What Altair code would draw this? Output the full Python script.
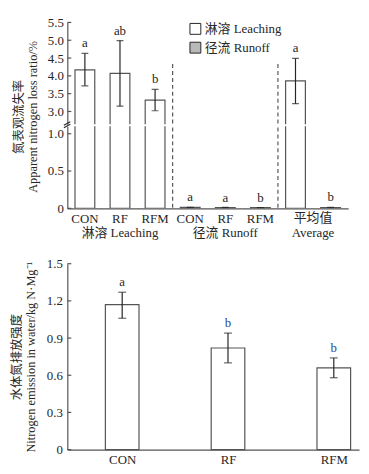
import altair as alt
import pandas as pd

FONT = "Liberation Serif, Noto Sans CJK SC"
INK = "#262626"
EDGE = "#555555"

# ---------------- top chart data (apparent nitrogen loss ratio, %) ----------------
slots = ["L-CON", "L-RF", "L-RFM", "R-CON", "R-RF", "R-RFM", "A-L", "A-R"]
slot_type = ["淋溶 Leaching"] * 3 + ["径流 Runoff"] * 3 + ["淋溶 Leaching", "径流 Runoff"]
slot_mean = [4.17, 4.07, 3.32, 0.012, 0.010, 0.009, 3.86, 0.011]
slot_lo = [3.72, 3.15, 3.02, 0.009, 0.008, 0.007, 3.22, 0.008]
slot_hi = [4.63, 4.99, 3.62, 0.015, 0.012, 0.011, 4.49, 0.014]
slot_sig = ["a", "ab", "b", "a", "a", "b", "a", "b"]

label_slots = ["L-CON", "L-RF", "L-RFM", "R-CON", "R-RF", "R-RFM"]
label_text = ["CON", "RF", "RFM", "CON", "RF", "RFM"]
group_slots = ["L-RF", "R-RF"]
group_text = ["淋溶 Leaching", "径流 Runoff"]
avg_slot = ["A-L"]
avg_line1 = ["平均值"]
avg_line2 = ["Average"]

sep_slots = ["R-CON", "A-L"]
sep_top = [4.33, 4.33]

upper_ticks = [3.0, 3.5, 4.0, 4.5, 5.0, 5.5]
lower_ticks = [0.0, 0.5, 1.0]
upper_domain = [2.64, 5.5]
lower_domain = [0.0, 1.1]

legend_types = ["淋溶 Leaching", "径流 Runoff"]
legend_fills = ["white", "#b9b9b9"]

# ---------------- bottom chart data (N emission intensity) ----------------
treats = ["CON", "RF", "RFM"]
emis_mean = [1.17, 0.82, 0.66]
emis_lo = [1.06, 0.70, 0.58]
emis_hi = [1.27, 0.94, 0.74]
emis_sig = ["a", "b", "b"]
emis_ticks = [0.0, 0.3, 0.6, 0.9, 1.2, 1.5]

top = pd.DataFrame({"slot": slots, "type": slot_type, "mean": slot_mean,
                    "lo": slot_lo, "hi": slot_hi, "sig": slot_sig})
seps = pd.DataFrame({"slot": sep_slots, "top": sep_top})
labs = pd.DataFrame({"slot": label_slots, "text": label_text})
groups = pd.DataFrame({"slot": group_slots, "text": group_text})
avg = pd.DataFrame({"slot": avg_slot, "l1": avg_line1, "l2": avg_line2})
bottom = pd.DataFrame({"treat": treats, "mean": emis_mean, "lo": emis_lo,
                       "hi": emis_hi, "sig": emis_sig})

W = 284
BAND = W / len(slots)
H_UP = 103
H_LO = 83

LABEL_EXPR = "datum.value == 0 ? '0' : format(datum.value, '.1f')"


def panel(domain, ticks, height, lower):
    xscale = alt.Scale(domain=slots, paddingInner=0, paddingOuter=0)
    if lower:
        xaxis = alt.Axis(labels=False, ticks=False, domain=True, domainColor=EDGE,
                         domainWidth=1.2, title=None, grid=False)
    else:
        xaxis = None
    yscale = alt.Scale(domain=domain, zero=False, nice=False)
    if lower:
        yaxis = alt.Axis(values=ticks, ticks=False, domainColor=EDGE, domainWidth=1.2,
                         labelExpr=LABEL_EXPR, grid=False, labelPadding=4,
                         title=["氮表观流失率", "Apparent nitrogen loss ratio/%"],
                         titleY=-10, titlePadding=8, titleLineHeight=14)
    else:
        yaxis = alt.Axis(values=ticks, ticks=False, domainColor=EDGE, domainWidth=1.2,
                         labelExpr=LABEL_EXPR, grid=False, labelPadding=4, title=None)

    def X(field="slot:N", **kw):
        return alt.X(field, scale=xscale, axis=xaxis, **kw)

    def Y(field):
        return alt.Y(field, scale=yscale, axis=yaxis)

    base = alt.Chart(top)
    fill_legend = None
    if not lower:
        fill_legend = alt.Legend(title=None, orient="none", legendX=123, legendY=0,
                                 symbolType="square", symbolSize=121,
                                 symbolStrokeColor=INK, symbolStrokeWidth=1,
                                 labelFont=FONT, labelFontSize=13, labelColor=INK,
                                 rowPadding=4, labelOffset=3, padding=0)
    bars = base.mark_bar(width=20, stroke=EDGE, strokeWidth=1.2, clip=True).encode(
        x=X(), y=Y("mean:Q"), y2=alt.datum(0),
        fill=alt.Fill("type:N", scale=alt.Scale(domain=legend_types, range=legend_fills),
                      legend=fill_legend))
    err = base.mark_rule(color=INK, strokeWidth=1.2, clip=True).encode(
        x=X(), y=Y("lo:Q"), y2="hi:Q")
    cap_lo = base.mark_tick(size=7, thickness=1.2, color=INK, clip=True).encode(x=X(), y=Y("lo:Q"))
    cap_hi = base.mark_tick(size=7, thickness=1.2, color=INK, clip=True).encode(x=X(), y=Y("hi:Q"))
    letters = base.mark_text(baseline="bottom", dy=-3, font=FONT, fontSize=13,
                             color=INK, clip=True).encode(x=X(), y=Y("hi:Q"), text="sig:N")
    sep = alt.Chart(seps).mark_rule(strokeDash=[4, 3], color=EDGE, strokeWidth=1.2,
                                    clip=True).encode(
        x=X(bandPosition=0), y=Y("top:Q"), y2=alt.datum(0))
    tk = alt.Chart(pd.DataFrame({"t": ticks})).mark_rule(color=EDGE, strokeWidth=1.2).encode(
        x=alt.value(0), x2=alt.value(4), y=Y("t:Q"))
    layers = [bars, err, cap_lo, cap_hi, letters, sep, tk]
    if lower:
        l1 = alt.Chart(labs).mark_text(font=FONT, fontSize=13, color=INK, baseline="middle").encode(
            x=X(), y=alt.value(height + 11), text="text:N")
        l2 = alt.Chart(groups).mark_text(font=FONT, fontSize=13, color=INK, baseline="middle").encode(
            x=X(), y=alt.value(height + 25), text="text:N")
        a1 = alt.Chart(avg).mark_text(font=FONT, fontSize=13, color=INK, baseline="middle",
                                      xOffset=BAND / 2).encode(
            x=X(), y=alt.value(height + 10), text="l1:N")
        a2 = alt.Chart(avg).mark_text(font=FONT, fontSize=13, color=INK, baseline="middle",
                                      xOffset=BAND / 2).encode(
            x=X(), y=alt.value(height + 25), text="l2:N")
        brk_data = alt.Chart(pd.DataFrame({"k": [0]}))
        brk1 = brk_data.mark_rule(color=INK, strokeWidth=1.1).encode(
            x=alt.value(-3.5), x2=alt.value(3), y=alt.value(1.5), y2=alt.value(-2))
        brk2 = brk_data.mark_rule(color=INK, strokeWidth=1.1).encode(
            x=alt.value(-3.5), x2=alt.value(3), y=alt.value(-1), y2=alt.value(-4.5))
        layers += [l1, l2, a1, a2, brk1, brk2]
    return alt.layer(*layers).properties(width=W, height=height)


upper = panel(upper_domain, upper_ticks, H_UP, False)
lower = panel(lower_domain, lower_ticks, H_LO, True)

top_chart = alt.vconcat(upper, lower, spacing=2, bounds="flush").resolve_scale(
    y="independent").resolve_legend(fill="independent")

# ---------------- bottom chart ----------------
bx_scale = alt.Scale(type="point", domain=treats, padding=0.3785, align=0.685)
bx_axis = alt.Axis(title=None, ticks=False, domainColor=EDGE, domainWidth=1.2,
                   labelPadding=4, labelAngle=0)
by_scale = alt.Scale(domain=[0, 1.5], nice=False)
by_axis = alt.Axis(values=emis_ticks, ticks=False, domainColor=EDGE, domainWidth=1.2,
                   labelExpr=LABEL_EXPR, grid=False, labelPadding=5,
                   title=["水体氮排放强度", "Nitrogen emission in water/kg N·Mg⁻¹"],
                   titlePadding=9, titleLineHeight=14)


def BX():
    return alt.X("treat:N", sort=treats, scale=bx_scale, axis=bx_axis)


def BY(field):
    return alt.Y(field, scale=by_scale, axis=by_axis)


bb = alt.Chart(bottom)
b_bars = bb.mark_bar(size=34, fill="white", stroke=EDGE, strokeWidth=1.2).encode(
    x=BX(), y=BY("mean:Q"))
b_err = bb.mark_rule(color=INK, strokeWidth=1.2).encode(x=BX(), y=BY("lo:Q"), y2="hi:Q")
b_cap1 = bb.mark_tick(size=8, thickness=1.2, color=INK).encode(x=BX(), y=BY("lo:Q"))
b_cap2 = bb.mark_tick(size=8, thickness=1.2, color=INK).encode(x=BX(), y=BY("hi:Q"))
b_txt = bb.mark_text(baseline="bottom", dy=-3, font=FONT, fontSize=13).encode(
    x=BX(), y=BY("hi:Q"), text="sig:N",
    color=alt.Color("sig:N", scale=alt.Scale(domain=["a", "b"], range=["#3a2a22", "#2a4796"]),
                    legend=None))
b_tk = alt.Chart(pd.DataFrame({"t": emis_ticks})).mark_rule(color=EDGE, strokeWidth=1.2).encode(
    x=alt.value(0), x2=alt.value(4), y=BY("t:Q"))

bottom_chart = alt.layer(b_bars, b_err, b_cap1, b_cap2, b_txt, b_tk).properties(
    width=295, height=188)

chart = alt.vconcat(top_chart, bottom_chart, spacing=18).resolve_scale(
    y="independent", x="independent", color="independent").properties(
    padding={"left": 2, "top": 6, "right": 2, "bottom": 0}
).configure_view(stroke=None).configure_axis(
    labelFont=FONT, labelFontSize=13, labelColor=INK,
    titleFont=FONT, titleFontSize=12.5, titleColor=INK, titleFontWeight="normal"
)

chart.save("out.html", embed_options={"renderer": "svg", "actions": False})
